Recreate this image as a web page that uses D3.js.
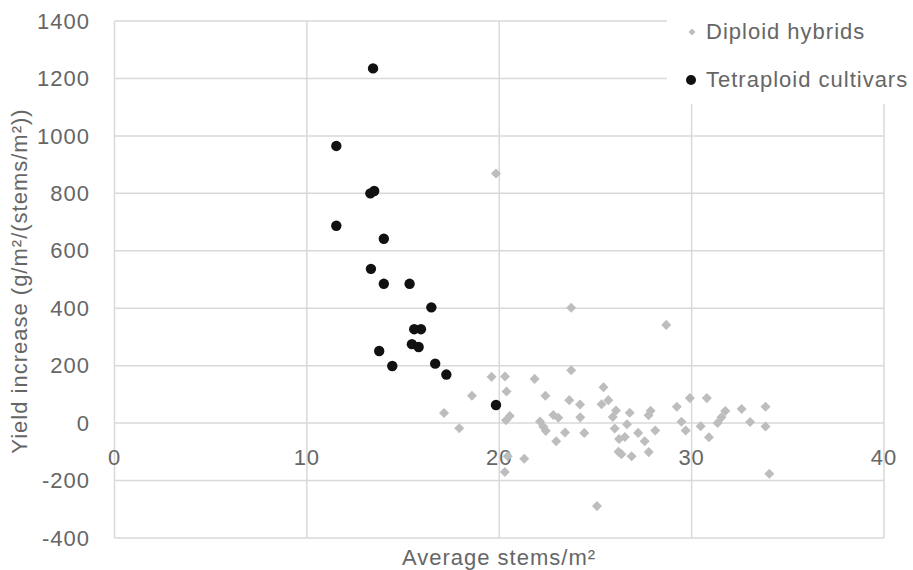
<!DOCTYPE html>
<html lang="en">
<head>
<meta charset="UTF-8">
<title>Yield increase vs stems</title>
<script src="https://cdn.jsdelivr.net/npm/d3@7/dist/d3.min.js"></script>
<style>
  body { margin: 0; background: #fff; }
  svg { display: block; font-family: "Liberation Sans", Arial, sans-serif; }
  svg text { letter-spacing: 1px; }
</style>
</head>
<body>
<svg width="913" height="570"></svg>
<script>
// series names
var seriesNames = ["Diploid hybrids", "Tetraploid cultivars"];

// diploid hybrids
var diplX = [19.83, 23.74, 28.68, 23.74, 19.6, 20.3, 21.84, 18.58, 20.38, 22.4,
             25.42, 23.64, 24.2, 25.32, 25.67, 26.07, 25.9, 26.78, 27.87, 27.76,
             29.23, 29.91, 30.79, 31.75, 31.55, 31.35, 32.6, 33.04, 33.84, 33.84,
             34.04, 30.9, 30.47, 17.13, 17.92, 20.35, 20.55, 22.12, 22.29, 22.42,
             22.81, 23.07, 22.96, 23.42, 24.21, 24.42, 26.0, 26.23, 26.53, 26.2,
             26.35, 26.64, 26.88, 27.22, 27.56, 27.77, 28.11, 29.47, 29.69, 21.3,
             20.29, 20.44, 25.08];
var diplY = [869, 402, 342, 184, 161, 162, 154, 95, 110, 95,
             125, 80, 65, 66, 80, 44, 21, 36, 43, 27,
             57, 87, 87, 42, 20, 0, 49, 4, 57, -12,
             -176, -49, -11, 35, -18, 10, 25, 6, -13, -27,
             28, 19, -63, -33, 20, -34, -19, -55, -48, -100,
             -108, -4, -115, -34, -63, -101, -26, 5, -26, -124,
             -170, -115, -289];

// tetraploid cultivars
var tetraX = [13.44, 11.53, 13.3, 13.5, 11.53, 14.0, 13.33, 14.0, 15.34, 16.47,
              15.58, 15.93, 15.46, 15.81, 13.76, 14.44, 16.67, 17.25, 19.83];
var tetraY = [1235, 965, 800, 808, 687, 642, 537, 485, 485, 403,
              327, 327, 275, 265, 251, 199, 207, 169, 63];

var xTicks = [0, 10, 20, 30, 40];
var yTicks = [-400, -200, 0, 200, 400, 600, 800, 1000, 1200, 1400];

var svg = d3.select("svg");
var plot = {left: 114.5, right: 884, top: 21, bottom: 538};

var x = d3.scaleLinear().domain([0, 40]).range([plot.left, plot.right]);
var y = d3.scaleLinear().domain([-400, 1400]).range([plot.bottom, plot.top]);

var textColor = "#666";
var gridColor = "#d9d9d9";
var fontSize = 22;

// gridlines
svg.append("g").selectAll("line.h")
  .data(yTicks).enter().append("line")
  .attr("x1", plot.left).attr("x2", plot.right)
  .attr("y1", function(d) { return y(d); })
  .attr("y2", function(d) { return y(d); })
  .attr("stroke", gridColor).attr("stroke-width", 1.5);

svg.append("g").selectAll("line.v")
  .data(xTicks).enter().append("line")
  .attr("y1", plot.top).attr("y2", plot.bottom)
  .attr("x1", function(d) { return x(d); })
  .attr("x2", function(d) { return x(d); })
  .attr("stroke", gridColor).attr("stroke-width", 1.5);

// y tick labels
svg.append("g").selectAll("text")
  .data(yTicks).enter().append("text")
  .attr("x", 90).attr("y", function(d) { return y(d); })
  .attr("dy", "0.35em")
  .attr("text-anchor", "end")
  .attr("font-size", fontSize)
  .attr("fill", textColor)
  .text(function(d) { return d; });

// x tick labels (axis crosses at y = 0)
svg.append("g").selectAll("text")
  .data(xTicks).enter().append("text")
  .attr("x", function(d) { return x(d); })
  .attr("y", y(0) + 34)
  .attr("dy", "0.35em")
  .attr("text-anchor", "middle")
  .attr("font-size", fontSize)
  .attr("fill", textColor)
  .text(function(d) { return d; });

// axis titles
svg.append("text")
  .attr("x", 499).attr("y", 557).attr("dy", "0.35em")
  .attr("text-anchor", "middle")
  .attr("font-size", fontSize)
  .attr("fill", textColor)
  .text("Average stems/m²");

svg.append("text")
  .attr("transform", "translate(19,281) rotate(-90)")
  .attr("dy", "0.35em")
  .attr("text-anchor", "middle")
  .attr("font-size", fontSize)
  .attr("fill", textColor)
  .text("Yield increase (g/m²/(stems/m²))");

// diploid diamonds
var diamond = d3.symbol().type(d3.symbolDiamond2).size(64);
svg.append("g").selectAll("path")
  .data(d3.range(diplX.length)).enter().append("path")
  .attr("d", diamond)
  .attr("transform", function(i) { return "translate(" + x(diplX[i]) + "," + y(diplY[i]) + ")"; })
  .attr("fill", "#bdbdbd");

// tetraploid circles
svg.append("g").selectAll("circle")
  .data(d3.range(tetraX.length)).enter().append("circle")
  .attr("cx", function(i) { return x(tetraX[i]); })
  .attr("cy", function(i) { return y(tetraY[i]); })
  .attr("r", 5.2)
  .attr("fill", "#111");

// legend
var legend = svg.append("g");
legend.append("rect")
  .attr("x", 667).attr("y", 0).attr("width", 246).attr("height", 104)
  .attr("fill", "#fff");
legend.append("path")
  .attr("d", d3.symbol().type(d3.symbolDiamond2).size(32))
  .attr("transform", "translate(692,32)")
  .attr("fill", "#bdbdbd");
legend.append("circle")
  .attr("cx", 691).attr("cy", 80).attr("r", 5)
  .attr("fill", "#111");
legend.selectAll("text")
  .data(seriesNames).enter().append("text")
  .attr("x", 706)
  .attr("y", function(d, i) { return i === 0 ? 31 : 79; })
  .attr("dy", "0.35em")
  .attr("font-size", fontSize)
  .attr("fill", textColor)
  .text(function(d) { return d; });
</script>
</body>
</html>
